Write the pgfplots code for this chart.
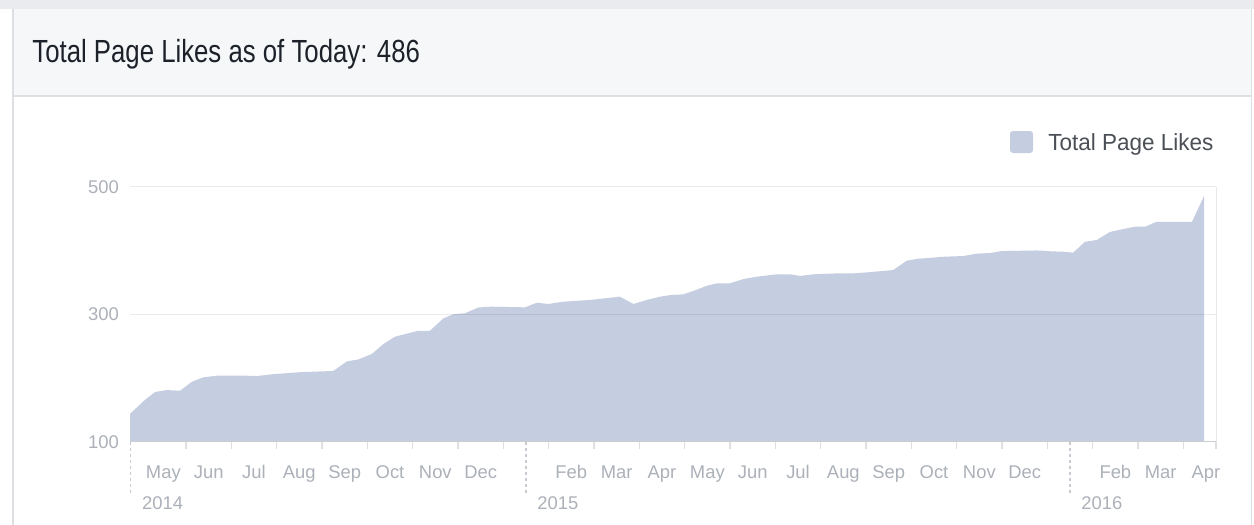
\documentclass[border=0pt]{standalone}
\usepackage{pgfplots}
\pgfplotsset{compat=1.18}
\usepackage{graphicx}
\usepackage{fontspec}
\setmainfont{Liberation Sans}
\definecolor{fillc}{RGB}{197,205,224}
\definecolor{hdrbg}{RGB}{246,247,249}
\definecolor{brd}{RGB}{221,223,226}
\definecolor{band}{RGB}{233,235,238}
\definecolor{titlec}{RGB}{29,33,41}
\definecolor{legc}{RGB}{75,79,86}
\definecolor{tickc}{RGB}{172,177,185}
\definecolor{dashc}{RGB}{200,204,210}
\begin{document}
\begin{tikzpicture}
\begin{scope}[x=0.5pt,y=-0.5pt]
\fill[white] (0,0) rectangle (1254,525);
\fill[band] (0,0) rectangle (1254,9);
\fill[hdrbg] (13,9) rectangle (1251,96);
\fill[brd] (13,95) rectangle (1251,97);
\fill[brd] (12,9) rectangle (14,525);
\fill[brd] (1250.5,9) rectangle (1252,525);
\node[anchor=base west, inner sep=0pt, text=titlec] at (32,62) {\scalebox{0.805}[1]{\fontsize{16}{19}\selectfont Total Page Likes as of Today: 486}};
\fill[fillc, rounded corners=1.5pt] (1010,131) rectangle (1033,153);
\node[anchor=base west, inner sep=0pt, text=legc] at (1048,150) {\scalebox{0.965}[1]{\fontsize{11.65}{14}\selectfont Total Page Likes}};
\end{scope}
\begin{axis}[
  at={(65pt,-220.85pt)}, anchor=south west,
  scale only axis, width=543pt, height=127.5pt,
  xmin=3.765, xmax=27.72, ymin=100, ymax=500,
  clip=false,
  axis on top,
  axis line style={draw=none},
  tick pos=left,
  tick align=outside,
  major tick length=0pt,
  minor tick length=3.5pt,
  minor tick style={brd, line width=0.75pt},
  xtick={4.5,5.5,6.5,7.5,8.5,9.5,10.5,11.5,13.5,14.5,15.5,16.5,17.5,18.5,19.5,20.5,21.5,22.5,23.5,25.5,26.5,27.5},
  xticklabels={May,Jun,Jul,Aug,Sep,Oct,Nov,Dec,Feb,Mar,Apr,May,Jun,Jul,Aug,Sep,Oct,Nov,Dec,Feb,Mar,Apr},
  minor xtick={5,6,7,8,9,10,11,12,13,14,15,16,17,18,19,20,21,22,23,24,25,26,27,27.72},
  ytick={100,300,500},
  yticklabels={100,300,500},
  /pgf/number format/assume math mode=true,
  ymajorgrids,
  major grid style={black, opacity=0.08, line width=0.5pt},
  ticklabel style={font=\fontsize{9.2}{11}\selectfont, text=tickc, inner sep=0pt},
  xticklabel style={anchor=base, yshift=-18.3pt},
  yticklabel style={anchor=east, xshift=-5.4pt},
]
\addplot[fill=fillc, draw=none] coordinates {
(3.77,100) (3.77,144) (4.10,166) (4.32,178) (4.57,181) (4.87,180) (5.13,194) (5.38,201) (5.68,203.5)
(6.34,203.5) (6.56,203) (6.93,206) (7.51,209) (8.25,211) (8.55,226) (8.80,229) (9.10,237.6)
(9.35,253) (9.61,264.7) (9.87,269.5) (10.12,274) (10.38,274) (10.68,293.6) (10.90,300) (11.15,301.4)
(11.45,310.5) (11.71,311.8) (12.48,310.8) (12.74,318) (12.99,316) (13.32,319.6) (13.91,322.3)
(14.57,327.5) (14.87,316) (15.16,322.3) (15.46,327.5) (15.68,330) (15.97,331.2) (16.19,336.4)
(16.49,344.7) (16.71,348.4) (17.00,348.4) (17.29,355) (17.59,358.8) (18.03,362.6) (18.32,362.6)
(18.54,360) (18.84,362.6) (19.35,364) (19.72,364) (20.09,366) (20.60,369.3) (20.90,384) (21.15,387)
(21.45,388.6) (21.67,390) (22.15,391.3) (22.44,395) (22.74,396) (22.99,399) (23.77,400) (24.06,398.7)
(24.35,398) (24.57,396.5) (24.83,413.7) (25.09,416.4) (25.38,429) (25.68,433.7) (25.94,437.3)
(26.16,437.3) (26.41,445) (27.19,445) (27.46,486) (27.46,100)
};
\draw[brd, line width=0.75pt] (axis cs:3.765,100) -- (axis cs:27.72,100);
\draw[brd!70, line width=0.5pt] (axis cs:27.72,100) -- (axis cs:27.72,500);
\draw[dashc, dash pattern=on 1.5pt off 1.5pt, line width=0.6pt] (axis cs:3.78,100) -- ++(0pt,-26.5pt);
\draw[dashc, dash pattern=on 1.5pt off 1.5pt, line width=0.6pt] (axis cs:12.5,100) -- ++(0pt,-26.5pt);
\draw[dashc, dash pattern=on 1.5pt off 1.5pt, line width=0.6pt] (axis cs:24.5,100) -- ++(0pt,-26.5pt);
\node[anchor=base west, inner sep=0pt, text=tickc, font=\fontsize{9.2}{11}\selectfont, xshift=5.5pt, yshift=-34pt] at (axis cs:3.78,100) {2014};
\node[anchor=base west, inner sep=0pt, text=tickc, font=\fontsize{9.2}{11}\selectfont, xshift=5.5pt, yshift=-34pt] at (axis cs:12.5,100) {2015};
\node[anchor=base west, inner sep=0pt, text=tickc, font=\fontsize{9.2}{11}\selectfont, xshift=5.5pt, yshift=-34pt] at (axis cs:24.5,100) {2016};
\end{axis}
\pgfresetboundingbox
\path[use as bounding box] (0pt,0pt) rectangle (627pt,-262.5pt);
\end{tikzpicture}
\end{document}
